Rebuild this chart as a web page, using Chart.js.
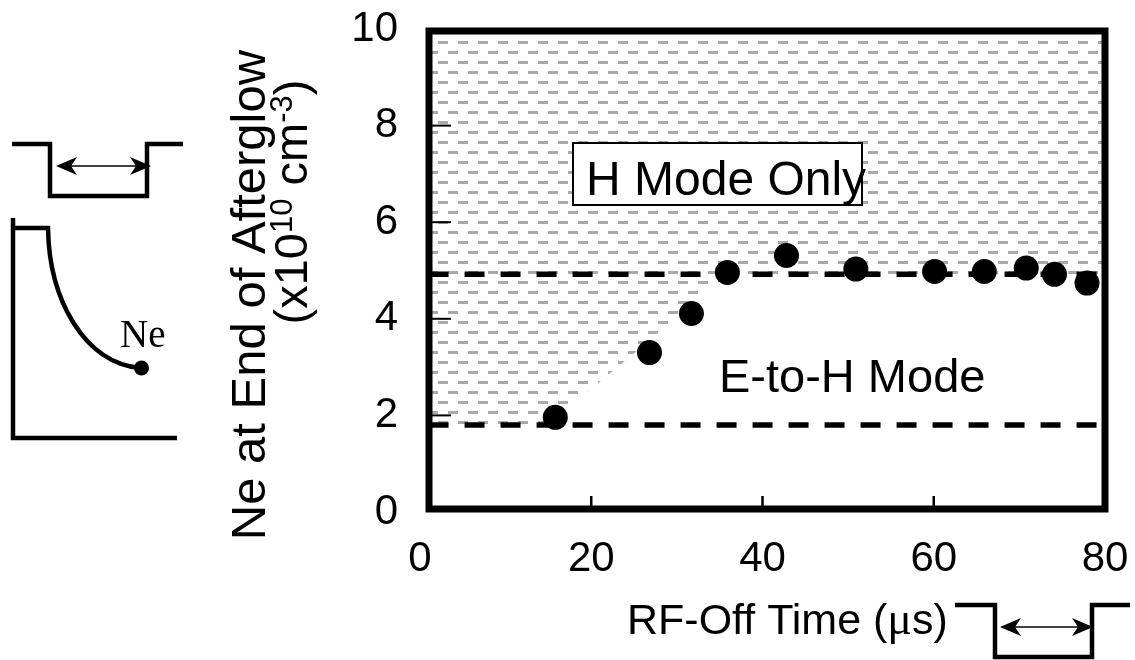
<!DOCTYPE html>
<html>
<head>
<meta charset="utf-8">
<script src="https://cdn.jsdelivr.net/npm/chart.js@4.4.1/dist/chart.umd.min.js"></script>
<style>
  html, body { margin: 0; padding: 0; background: #fff; }
  #wrap { width: 1135px; height: 660px; position: relative; }
</style>
</head>
<body>
<div id="wrap"><canvas id="chart" width="1135" height="660"></canvas></div>
<script>
// RF-off time (us) vs electron density at end of afterglow (x1e10 cm^-3)
const offTimes  = [15.8, 26.8, 31.7, 35.9, 42.8, 50.9, 60.1, 65.9, 70.8, 74.1, 77.9];
const densities = [1.96, 3.30, 4.11, 4.96, 5.31, 5.03, 4.98, 4.98, 5.05, 4.92, 4.74];

// mode boundaries (dashed lines)
const hOnlyLevel = 4.92;
const eToHLevel = 1.80;
const levelSpan = [1, 80.6];

// lower edge of the shaded "H Mode Only" region
const regionX = [1, 15, 36, 80];
const regionY = [1.80, 1.80, 4.92, 4.92];

const xTicks = [0, 20, 40, 60, 80];
const yTicks = [0, 2, 4, 6, 8, 10];

const SANS = '"Liberation Sans", Arial, sans-serif';
const SERIF = '"Liberation Serif", "Times New Roman", serif';

// where the plot area should sit on the page
const AREA = { left: 420, right: 1105, top: 29, bottom: 512 };

Chart.defaults.font.family = SANS;
Chart.defaults.color = '#000';

// grey dashed-line fill like the original hatch
function hatchPattern(ctx) {
    const tile = document.createElement('canvas');
    tile.width = 20;
    tile.height = 20;
    const g = tile.getContext('2d');
    g.fillStyle = '#a9a9a9';
    g.fillRect(18, 1, 2, 3);
    g.fillRect(0, 1, 8, 3);
    g.fillRect(8, 11, 10, 3);
    return ctx.createPattern(tile, 'repeat');
}

function arrowHead(ctx, tipX, y, dir) {
    const len = 21, half = 9, notch = 6;
    ctx.beginPath();
    ctx.moveTo(tipX, y);
    ctx.lineTo(tipX - dir * len, y - half);
    ctx.lineTo(tipX - dir * (len - notch), y);
    ctx.lineTo(tipX - dir * len, y + half);
    ctx.closePath();
    ctx.fill();
}

function doubleArrow(ctx, x1, x2, y) {
    ctx.lineWidth = 1.5;
    ctx.beginPath();
    ctx.moveTo(x1 + 8, y);
    ctx.lineTo(x2 - 8, y);
    ctx.stroke();
    arrowHead(ctx, x1, y, -1);
    arrowHead(ctx, x2, y, 1);
}

function pulse(ctx, pts) {
    ctx.lineWidth = 4.5;
    ctx.lineJoin = 'miter';
    ctx.beginPath();
    ctx.moveTo(pts[0][0], pts[0][1]);
    for (let i = 1; i < pts.length; i++) ctx.lineTo(pts[i][0], pts[i][1]);
    ctx.stroke();
}

// draw a run of text pieces one after another, starting at x
function textRun(ctx, pieces, x, y) {
    let cx = x;
    for (const p of pieces) {
        ctx.font = p.font;
        ctx.fillText(p.text, cx, y - (p.rise || 0));
        cx += ctx.measureText(p.text).width;
    }
}

function runWidth(ctx, pieces) {
    let w = 0;
    for (const p of pieces) {
        ctx.font = p.font;
        w += ctx.measureText(p.text).width;
    }
    return w;
}

const framePlugin = {
    id: 'frame',
    afterDatasetsDraw(chart) {
        const ctx = chart.ctx;
        const a = chart.chartArea;
        const xs = chart.scales.x, ys = chart.scales.y;
        const left = a.left + 9, right = a.right, top = a.top + 2, bottom = a.bottom - 3;

        ctx.save();
        ctx.strokeStyle = '#000';
        ctx.fillStyle = '#000';

        // inward tick marks
        ctx.lineWidth = 2;
        for (const v of yTicks.slice(1, -1)) {
            const py = ys.getPixelForValue(v);
            ctx.beginPath();
            ctx.moveTo(left, py);
            ctx.lineTo(left + 22, py);
            ctx.stroke();
        }
        ctx.lineWidth = 2.5;
        for (const v of xTicks.slice(1, -1)) {
            const px = xs.getPixelForValue(v);
            ctx.beginPath();
            ctx.moveTo(px, bottom);
            ctx.lineTo(px, bottom - 13);
            ctx.stroke();
        }

        // plot frame
        ctx.lineWidth = 7;
        ctx.strokeRect(left, top, right - left, bottom - top);

        // "H Mode Only" label box
        ctx.fillStyle = '#fff';
        ctx.fillRect(573, 143, 289, 62);
        ctx.lineWidth = 2;
        ctx.strokeRect(573, 143, 289, 62);
        ctx.fillStyle = '#000';
        ctx.font = '48px ' + SANS;
        ctx.textBaseline = 'alphabetic';
        ctx.fillText('H Mode Only', 586, 195);

        ctx.font = '47px ' + SANS;
        ctx.fillText('E-to-H Mode', 719, 392);

        // axis titles
        const xTitle = [
            { text: 'RF-Off Time (', font: '43px ' + SANS },
            { text: 'μ', font: '46px ' + SERIF },
            { text: 's)', font: '43px ' + SANS }
        ];
        textRun(ctx, xTitle, 627, 634);

        ctx.save();
        ctx.translate(265, 295);
        ctx.rotate(-Math.PI / 2);
        ctx.font = '49px ' + SANS;
        ctx.textAlign = 'center';
        ctx.fillText('Ne at End of Afterglow', 0, 0);
        ctx.restore();

        const norm = '47px ' + SANS;
        const sup = '31px ' + SANS;
        const yTitle2 = [
            { text: '(x10', font: norm },
            { text: '10', font: sup, rise: 15 },
            { text: ' cm', font: norm },
            { text: '-3', font: sup, rise: 15 },
            { text: ')', font: norm }
        ];
        ctx.save();
        ctx.translate(307, 202);
        ctx.rotate(-Math.PI / 2);
        textRun(ctx, yTitle2, -runWidth(ctx, yTitle2) / 2, 0);
        ctx.restore();

        // schematic: RF pulse and decaying Ne (left)
        pulse(ctx, [[12, 144], [50, 144], [50, 196], [147, 196], [147, 144], [183, 144]]);
        doubleArrow(ctx, 56, 151, 166);

        ctx.lineWidth = 4.5;
        ctx.beginPath();
        ctx.moveTo(13, 218);
        ctx.lineTo(13, 438);
        ctx.lineTo(177, 438);
        ctx.stroke();
        ctx.beginPath();
        ctx.moveTo(13, 228);
        ctx.lineTo(48, 228);
        ctx.bezierCurveTo(49, 300, 85, 364, 141, 368);
        ctx.stroke();
        ctx.beginPath();
        ctx.arc(141.5, 368, 7.5, 0, Math.PI * 2);
        ctx.fill();
        ctx.font = '39px ' + SERIF;
        ctx.fillText('Ne', 120, 347);

        // schematic: RF-off window (bottom right)
        pulse(ctx, [[955, 605], [995, 605], [995, 657], [1092, 657], [1092, 605], [1130, 605]]);
        doubleArrow(ctx, 1000, 1093, 627);

        ctx.restore();
    }
};

const ctx = document.getElementById('chart').getContext('2d');

const chart = new Chart(ctx, {
    type: 'scatter',
    data: {
        datasets: [
            {
                label: 'Ne',
                data: offTimes.map((x, i) => ({ x, y: densities[i] })),
                pointRadius: 12.5,
                pointHoverRadius: 12.5,
                backgroundColor: '#000',
                borderWidth: 0,
                clip: false,
                order: 0
            },
            {
                type: 'line',
                label: 'H only',
                data: levelSpan.map(x => ({ x, y: hOnlyLevel })),
                borderColor: '#000',
                borderWidth: 5.5,
                borderDash: [20, 16],
                pointRadius: 0,
                fill: false,
                clip: false,
                order: 1
            },
            {
                type: 'line',
                label: 'E to H',
                data: levelSpan.map(x => ({ x, y: eToHLevel })),
                borderColor: '#000',
                borderWidth: 5.5,
                borderDash: [20, 16],
                pointRadius: 0,
                fill: false,
                clip: false,
                order: 1
            },
            {
                type: 'line',
                label: 'region',
                data: regionX.map((x, i) => ({ x, y: regionY[i] })),
                borderWidth: 0,
                borderColor: 'rgba(0,0,0,0)',
                backgroundColor: hatchPattern(ctx),
                pointRadius: 0,
                fill: 'end',
                order: 3
            }
        ]
    },
    options: {
        responsive: false,
        animation: false,
        devicePixelRatio: 1,
        layout: {
            autoPadding: false,
            padding: { left: 305, right: 30, top: 29, bottom: 0 }
        },
        plugins: {
            legend: { display: false },
            tooltip: { enabled: false }
        },
        scales: {
            x: {
                type: 'linear',
                min: 0,
                max: 80,
                afterFit(s) {
                    s.height = 148;
                    s.paddingLeft = 0;
                    s.paddingRight = 0;
                },
                afterBuildTicks(s) { s.ticks = xTicks.map(v => ({ value: v })); },
                grid: { display: false, drawTicks: false },
                border: { display: false },
                ticks: { font: { size: 42 }, padding: 22, color: '#000', maxRotation: 0 }
            },
            y: {
                type: 'linear',
                min: 0,
                max: 10,
                afterFit(s) {
                    s.width = 115;
                    s.paddingTop = 0;
                    s.paddingBottom = 0;
                },
                afterBuildTicks(s) { s.ticks = yTicks.map(v => ({ value: v })); },
                grid: { display: false, drawTicks: false },
                border: { display: false },
                ticks: { font: { size: 42 }, padding: 22, color: '#000' }
            }
        }
    },
    plugins: [framePlugin]
});

// nudge the padding until the plot area lands where the original has it
for (let i = 0; i < 3; i++) {
    const a = chart.chartArea;
    const p = chart.config.options.layout.padding;
    chart.config.options.layout.padding = {
        left: p.left + (AREA.left - a.left),
        right: p.right + (a.right - AREA.right),
        top: p.top + (AREA.top - a.top),
        bottom: p.bottom + (a.bottom - AREA.bottom)
    };
    chart.update();
}
</script>
</body>
</html>
